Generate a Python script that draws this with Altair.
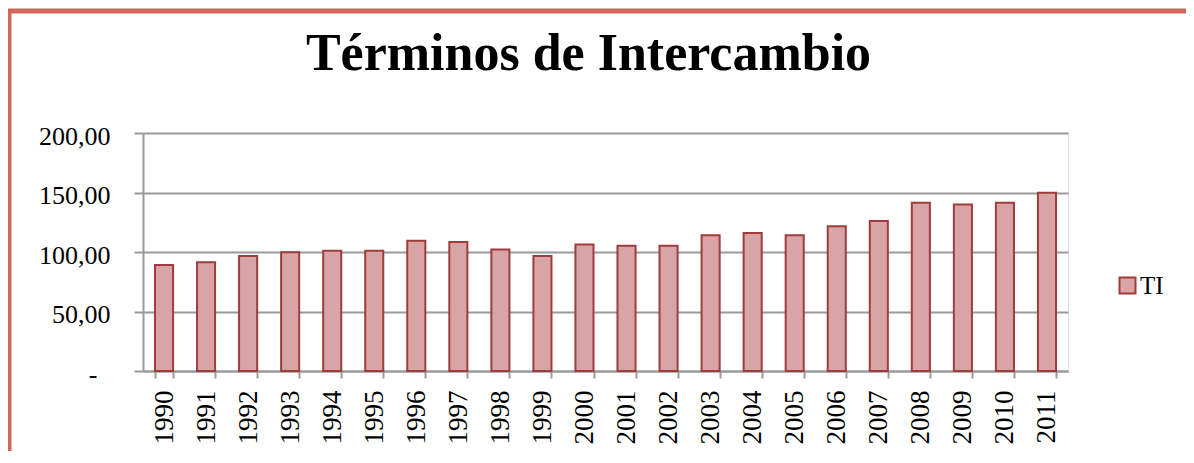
import altair as alt
import pandas as pd

years = ["1990", "1991", "1992", "1993", "1994", "1995", "1996", "1997", "1998", "1999", "2000",
         "2001", "2002", "2003", "2004", "2005", "2006", "2007", "2008", "2009", "2010", "2011"]
ti_values = [89.1, 91.3, 96.6, 99.7, 101.1, 101.1, 109.5, 108.4, 102.2, 96.6, 106.4,
             105.3, 105.3, 114.0, 116.0, 114.0, 121.6, 126.1, 141.3, 139.9, 141.3, 149.7]
series_name = ["TI"] * len(years)
y_ticks = [0, 50, 100, 150, 200]

df = pd.DataFrame({"anio": years, "TI": ti_values, "serie": series_name})

GRID = "#9a9a9a"
BAR_FILL = "#D8A4A5"
BAR_STROKE = "#9E3D3B"
FRAME = "#D0665C"

bars = alt.Chart(df).mark_bar(stroke=BAR_STROKE, strokeWidth=2, opacity=1).encode(
    x=alt.X("anio:N", sort=None,
            scale=alt.Scale(paddingInner=0.57, paddingOuter=0.285),
            axis=alt.Axis(title=None, labelAngle=-90, labelFont="Liberation Serif",
                          labelFontSize=27, labelColor="#000", tickBand="extent",
                          tickSize=7, tickColor=GRID, tickWidth=2, domainColor=GRID,
                          domainWidth=2, labelPadding=12, grid=False)),
    y=alt.Y("TI:Q", scale=alt.Scale(domain=[0, 200]),
            axis=alt.Axis(title=None, values=y_ticks,
                          labelExpr="datum.value == 0 ? '-\u2007\u200b' : replace(format(datum.value, '.2f'), '.', ',')",
                          labelFont="Liberation Serif", labelFontSize=26, labelColor="#000",
                          grid=True, gridColor=GRID, gridWidth=2,
                          tickSize=9, tickColor=GRID, tickWidth=2, labelOffset=3,
                          domainColor=GRID, domainWidth=2, labelPadding=24)),
    color=alt.Color("serie:N", scale=alt.Scale(range=[BAR_FILL]),
                    legend=alt.Legend(title=None, orient="none", legendX=972, legendY=140,
                                      symbolType="square", symbolSize=256,
                                      symbolStrokeColor=BAR_STROKE, symbolStrokeWidth=2,
                                      symbolOpacity=1,
                                      labelFont="Liberation Serif", labelFontSize=25,
                                      labelColor="#000", labelOffset=0))
)

frame = alt.Chart(pd.DataFrame({"k": [0]})).mark_rect(
    filled=False, stroke=FRAME, strokeWidth=5, clip=False
).encode(x=alt.value(-134), y=alt.value(-122), x2=alt.value(2000), y2=alt.value(2000))

chart = alt.layer(bars, frame).properties(
    width=925, height=238,
    autosize=alt.AutoSizeParams(type="none"),
    padding={"left": 135, "top": 125, "right": 118, "bottom": 80},
    title=alt.Title("Términos de Intercambio", font="Liberation Serif", fontSize=52,
                    fontWeight="bold", color="#000", anchor="middle", frame="group",
                    dx=-17, offset=-72),
).configure_view(fill="#F2E9EA", stroke="transparent").configure(background="white")

chart.save("out.html", embed_options={"renderer": "svg", "actions": False})
